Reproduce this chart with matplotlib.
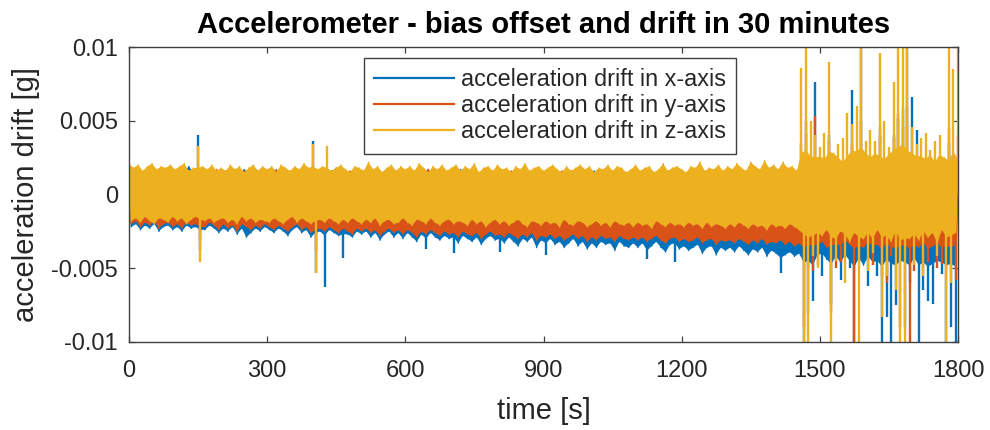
import numpy as np
import matplotlib
matplotlib.use("Agg")
import matplotlib.pyplot as plt

# ---------------- data (milli-g) ----------------
# Noise band of each series: local maxima at t = 0,10,...,1800 s and
# local minima at t = 5,15,...,1795 s (the signal alternates between them).
x_peaks = [
    1.7, 1.5, 1.8, 1.4, 1.6, 1.9, 1.5, 1.7, 1.6, 1.8,
    1.5, 1.8, 1.6, 1.9, 1.5, 1.7, 1.7, 1.5, 1.8, 1.6,
    1.7, 1.5, 1.8, 1.6, 1.4, 1.7, 1.5, 1.9, 1.6, 1.7,
    1.5, 1.8, 1.6, 1.4, 1.7, 1.5, 1.8, 1.6, 1.5, 1.7,
    1.6, 1.5, 1.7, 1.4, 1.6, 1.8, 1.5, 1.7, 1.4, 1.6,
    1.7, 1.5, 1.8, 1.4, 1.6, 1.5, 1.7, 1.4, 1.6, 1.8,
    1.5, 1.7, 1.4, 1.6, 1.5, 1.7, 1.3, 1.6, 1.5, 1.4,
    1.6, 1.4, 1.7, 1.5, 1.3, 1.6, 1.5, 1.4, 1.7, 1.5,
    1.4, 1.6, 1.3, 1.5, 1.6, 1.4, 1.5, 1.3, 1.6, 1.4,
    1.5, 1.3, 1.6, 1.4, 1.5, 1.3, 1.6, 1.4, 1.3, 1.5,
    1.4, 1.6, 1.3, 1.5, 1.4, 1.3, 1.5, 1.2, 1.4, 1.6,
    1.3, 1.5, 1.4, 1.2, 1.5, 1.3, 1.4, 1.6, 1.2, 1.4,
    1.5, 1.2, 1.4, 1.3, 1.5, 1.2, 1.4, 1.3, 1.5, 1.2,
    1.4, 1.3, 1.5, 1.2, 1.4, 1.3, 1.5, 1.2, 1.4, 1.3,
    1.5, 1.2, 1.4, 1.3, 1.5, 1.2, 1.9, 2.2, 2.0, 2.3,
    2.3, 1.9, 2.4, 2.1, 2.5, 1.8, 2.2, 2.0, 2.4, 2.6,
    2.5, 2.0, 2.2, 2.6, 1.9, 2.7, 2.3, 2.5, 2.8, 2.4,
    2.6, 2.2, 2.0, 1.8, 2.4, 1.7, 2.1, 1.9, 2.3, 2.2,
    2.0,
]
x_troughs = [
    -2.2, -2.0, -2.4, -2.1, -2.3, -2.0, -2.5, -2.2, -2.1, -2.4,
    -2.2, -2.5, -2.1, -2.3, -2.2, -2.4, -2.4, -2.1, -2.3, -2.6,
    -2.3, -2.5, -2.2, -2.7, -2.3, -2.9, -2.6, -2.3, -2.5, -2.2,
    -2.4, -2.6, -2.3, -2.5, -2.8, -2.4, -2.2, -2.6, -2.4, -2.9,
    -2.6, -2.5, -2.8, -2.4, -2.6, -2.8, -2.7, -2.7, -2.9, -2.5,
    -2.7, -2.5, -2.9, -2.6, -3.1, -2.7, -2.5, -2.9, -2.6, -3.0,
    -2.6, -2.9, -3.2, -2.7, -3.0, -2.6, -2.9, -3.1, -2.8, -3.0,
    -2.9, -3.3, -2.8, -3.0, -3.2, -2.9, -3.4, -3.0, -2.8, -3.1,
    -3.0, -3.3, -2.9, -3.2, -3.5, -3.0, -3.2, -2.9, -3.6, -3.1,
    -3.3, -3.0, -3.4, -3.2, -3.6, -3.3, -3.0, -3.5, -3.2, -3.7,
    -3.3, -3.6, -3.2, -3.4, -3.3, -3.8, -3.2, -3.5, -3.6, -3.3,
    -3.6, -3.3, -3.8, -3.5, -3.2, -3.6, -3.9, -3.4, -3.3, -3.7,
    -3.5, -3.8, -3.6, -3.4, -4.0, -3.6, -3.5, -4.1, -3.6, -3.8,
    -3.6, -3.9, -3.5, -3.8, -4.1, -3.7, -3.9, -3.6, -4.2, -3.8,
    -4.0, -4.3, -4.1, -3.9, -4.2, -4.0, -4.6, -4.5, -4.8, -4.1,
    -4.0, -4.4, -4.7, -4.2, -4.6, -4.1, -4.5, -4.9, -4.3, -4.8,
    -4.2, -4.6, -4.5, -4.9, -4.4, -4.7, -4.8, -4.5, -4.6, -4.8,
    -4.3, -4.8, -4.6, -4.9, -4.7, -4.5, -4.6, -4.8, -4.7, -4.9,
]
y_peaks = [
    1.6, 1.4, 1.7, 1.5, 1.8, 1.3, 1.6, 1.5, 1.7, 1.4,
    1.5, 1.7, 1.4, 1.6, 1.3, 1.8, 1.5, 1.6, 1.4, 1.7,
    1.4, 1.6, 1.5, 1.7, 1.3, 1.6, 1.4, 1.8, 1.5, 1.6,
    1.5, 1.3, 1.7, 1.4, 1.6, 1.5, 1.8, 1.4, 1.6, 1.3,
    1.7, 1.5, 1.4, 1.6, 1.5, 1.3, 1.7, 1.4, 1.6, 1.5,
    1.4, 1.6, 1.3, 1.7, 1.5, 1.4, 1.6, 1.5, 1.3, 1.6,
    1.5, 1.4, 1.6, 1.3, 1.5, 1.7, 1.4, 1.5, 1.3, 1.6,
    1.4, 1.5, 1.3, 1.6, 1.4, 1.5, 1.2, 1.6, 1.4, 1.3,
    1.5, 1.3, 1.4, 1.6, 1.2, 1.4, 1.5, 1.3, 1.6, 1.4,
    1.3, 1.5, 1.2, 1.4, 1.6, 1.3, 1.4, 1.2, 1.5, 1.3,
    1.4, 1.2, 1.5, 1.3, 1.4, 1.6, 1.2, 1.4, 1.3, 1.5,
    1.3, 1.4, 1.2, 1.5, 1.3, 1.4, 1.2, 1.5, 1.3, 1.2,
    1.4, 1.3, 1.5, 1.2, 1.4, 1.3, 1.1, 1.5, 1.3, 1.4,
    1.2, 1.4, 1.3, 1.5, 1.2, 1.3, 1.4, 1.2, 1.5, 1.3,
    1.4, 1.2, 1.5, 1.3, 1.4, 1.2, 1.8, 2.0, 1.8, 2.1,
    2.2, 1.8, 2.3, 2.0, 2.4, 1.6, 2.0, 2.1, 2.2, 2.3,
    2.4, 1.9, 2.1, 2.3, 1.8, 2.6, 2.2, 2.4, 2.5, 2.3,
    2.1, 2.6, 1.9, 1.7, 2.3, 1.6, 2.0, 1.8, 2.2, 2.2,
    2.0,
]
y_troughs = [
    -2.0, -1.8, -2.2, -1.9, -2.1, -1.8, -2.3, -2.0, -1.9, -2.2,
    -2.0, -2.3, -1.9, -2.1, -2.0, -2.2, -2.2, -1.9, -2.1, -2.4,
    -2.0, -2.3, -2.1, -2.5, -2.0, -2.2, -2.4, -2.1, -2.3, -2.0,
    -2.2, -2.4, -2.1, -2.3, -2.5, -2.2, -2.0, -2.4, -2.2, -2.6,
    -2.4, -2.3, -2.5, -2.2, -2.4, -2.6, -2.3, -2.5, -2.7, -2.3,
    -2.5, -2.3, -2.6, -2.4, -2.8, -2.5, -2.3, -2.6, -2.4, -2.7,
    -2.4, -2.6, -2.9, -2.5, -2.7, -2.4, -2.6, -2.8, -2.5, -2.7,
    -2.6, -2.9, -2.5, -2.7, -2.8, -2.6, -3.0, -2.7, -2.5, -2.8,
    -2.7, -2.9, -2.6, -2.8, -3.0, -2.7, -2.9, -2.6, -3.1, -2.8,
    -2.9, -2.7, -3.0, -2.8, -3.1, -2.9, -2.7, -3.0, -2.8, -3.2,
    -2.9, -3.1, -2.8, -3.0, -2.9, -3.2, -2.8, -3.0, -3.1, -2.9,
    -3.1, -2.9, -3.2, -3.0, -2.8, -3.1, -3.3, -3.0, -2.9, -3.2,
    -3.0, -3.2, -3.1, -2.9, -3.3, -3.1, -3.0, -3.4, -3.1, -3.2,
    -3.1, -3.3, -3.0, -3.2, -3.4, -3.1, -3.3, -3.0, -3.4, -3.2,
    -3.3, -3.1, -3.4, -3.2, -3.5, -3.3, -3.6, -3.4, -3.5, -3.4,
    -3.2, -3.6, -3.5, -3.3, -3.5, -3.1, -3.4, -3.7, -3.5, -3.6,
    -3.2, -3.5, -3.4, -3.7, -3.3, -3.6, -3.6, -3.5, -3.4, -3.7,
    -3.4, -3.6, -3.2, -3.7, -3.5, -3.3, -3.6, -3.5, -3.6, -3.4,
]
z_peaks = [
    2.1, 1.8, 2.0, 1.6, 1.9, 2.1, 1.7, 1.9, 1.8, 2.0,
    1.7, 1.9, 2.1, 1.6, 1.8, 1.8, 1.9, 1.7, 2.0, 1.6,
    1.8, 1.6, 2.0, 1.7, 1.9, 1.5, 1.8, 2.0, 1.6, 1.9,
    1.7, 1.9, 1.5, 2.0, 1.8, 1.6, 1.9, 1.7, 2.1, 1.8,
    1.9, 1.7, 1.9, 1.8, 1.6, 1.8, 2.0, 1.7, 1.5, 1.9,
    1.8, 1.6, 2.2, 1.7, 1.9, 1.5, 1.8, 2.0, 1.6, 1.9,
    1.7, 1.9, 1.6, 2.1, 1.8, 1.5, 1.9, 1.7, 2.0, 1.6,
    1.8, 2.0, 1.6, 1.9, 1.7, 2.1, 1.5, 1.8, 1.9, 1.6,
    2.0, 1.7, 1.8, 1.5, 1.9, 1.7, 2.1, 1.6, 1.8, 1.9,
    1.6, 1.8, 2.0, 1.7, 1.5, 1.9, 1.6, 1.8, 2.0, 1.7,
    1.9, 1.5, 1.8, 1.7, 2.0, 1.6, 1.9, 1.8, 1.5, 1.7,
    2.0, 1.6, 1.8, 1.9, 1.5, 1.7, 2.1, 1.6, 1.8, 1.9,
    1.7, 1.5, 1.9, 1.8, 2.2, 1.6, 1.8, 1.7, 2.0, 1.6,
    1.9, 1.7, 2.1, 1.8, 1.6, 2.2, 1.9, 1.7, 2.3, 1.8,
    2.0, 1.7, 2.2, 1.8, 1.9, 1.6, 2.8, 3.0, 2.6, 2.5,
    2.6, 2.4, 2.9, 2.8, 2.5, 2.2, 2.6, 3.0, 2.9, 3.2,
    2.8, 2.5, 2.8, 2.6, 2.4, 2.7, 3.0, 3.2, 3.4, 3.0,
    2.8, 2.6, 2.6, 2.4, 2.7, 2.2, 2.7, 2.5, 2.3, 2.9,
    2.4,
]
z_troughs = [
    -1.8, -1.6, -1.9, -1.5, -1.8, -2.0, -1.6, -1.7, -1.9, -1.5,
    -1.8, -1.6, -2.0, -1.7, -1.5, -1.7, -1.8, -1.6, -1.9, -1.7,
    -1.6, -1.9, -1.7, -2.0, -1.5, -1.8, -1.6, -1.9, -1.7, -1.8,
    -1.9, -1.6, -1.8, -2.0, -1.7, -1.5, -1.9, -1.6, -1.8, -2.0,
    -1.8, -1.7, -1.9, -1.6, -1.8, -2.0, -1.7, -1.9, -1.6, -1.8,
    -2.0, -1.7, -1.9, -1.6, -2.1, -1.8, -1.7, -2.0, -1.9, -1.6,
    -1.9, -2.1, -1.7, -1.8, -2.0, -1.6, -1.9, -2.1, -1.8, -1.7,
    -2.0, -1.8, -1.9, -2.1, -1.7, -2.0, -1.8, -2.2, -1.9, -1.7,
    -2.0, -1.8, -2.1, -1.9, -1.7, -2.0, -2.2, -1.8, -1.9, -2.1,
    -1.8, -2.0, -1.9, -2.2, -1.7, -2.0, -2.1, -1.8, -1.9, -2.2,
    -2.0, -1.8, -2.1, -1.9, -2.2, -1.8, -2.0, -2.1, -1.9, -2.2,
    -1.9, -2.1, -2.0, -2.3, -1.8, -2.0, -2.2, -1.9, -2.1, -2.0,
    -2.2, -1.9, -2.1, -2.0, -2.3, -1.9, -2.2, -2.0, -2.1, -2.3,
    -2.0, -2.2, -1.9, -2.1, -2.3, -2.0, -2.2, -2.1, -2.4, -2.0,
    -2.2, -2.1, -2.3, -2.0, -2.2, -2.4, -2.7, -2.9, -2.8, -2.6,
    -2.8, -2.4, -2.9, -3.0, -2.5, -2.7, -3.2, -2.6, -2.9, -3.0,
    -2.6, -3.0, -2.4, -2.9, -2.8, -3.2, -2.5, -3.1, -3.0, -3.0,
    -2.7, -3.1, -2.5, -2.9, -2.6, -3.3, -2.4, -2.9, -2.8, -2.6,
]

# Isolated spikes (time s, extreme value mg); values beyond +-10 run off the axes
x_spike_t = [150, 155, 400, 405, 425, 465, 645, 705, 805, 905, 1125, 1185, 1415,
             1465, 1470, 1475, 1485, 1490, 1505, 1520, 1525, 1545, 1565, 1570, 1575,
             1590, 1605, 1625, 1630, 1635, 1645, 1655, 1660, 1665, 1670, 1680,
             1685, 1690, 1695, 1700, 1710, 1715, 1725, 1735, 1745, 1765, 1775,
             1780, 1785, 1795]
x_spike_v = [4.0, -3.8, 3.6, -5.3, -6.3, -4.3, -3.7, -4.0, -3.9, -4.1, -4.4, -4.6, -5.3,
             -12, 5.0, -8.0, -7.2, 7.6, -5.5, 4.0, -7.4, -5.8, -5.0, 7.1, -10.5,
             12, -6.2, -5.5, 4.6, -12, -8.3, -12, 4.0, -7.5, 5.2, 5.8,
             -9.0, 12, -6.0, 6.6, 4.4, -12, -6.5, -7.2, -7.4, -5.4, -12,
             3.5, -9.0, -12]
y_spike_t = [155, 405, 1460, 1465, 1470, 1475, 1485, 1490, 1495, 1520, 1525, 1535,
             1545, 1570, 1575, 1585, 1590, 1615, 1630, 1635, 1645, 1655, 1660,
             1670, 1675, 1680, 1685, 1690, 1695, 1705, 1725, 1735, 1755, 1765,
             1775, 1780, 1795, 1800]
y_spike_v = [-3.0, -3.8, 3.5, -9.0, 4.2, -5.0, -5.2, 5.3, -4.8, 3.6, -8.0, -5.0,
             -4.6, 3.4, -12, -4.5, 5.0, -4.8, 4.0, -5.5, -6.0, -4.2, 3.8,
             5.5, -9.0, 4.6, -4.0, 6.0, -12, -5.2, -4.9, -4.6, -5.0, -4.7,
             -4.4, 4.5, -5.8, 4.0]
z_spike_t = [150, 155, 400, 405, 430, 1460, 1465, 1470, 1475, 1480, 1485, 1490,
             1495, 1500, 1510, 1520, 1525, 1535, 1540, 1550, 1555, 1560, 1570,
             1580, 1585, 1590, 1600, 1605, 1610, 1615, 1620, 1630, 1635, 1640,
             1645, 1650, 1660, 1665, 1670, 1675, 1680, 1685, 1690, 1700, 1705,
             1710, 1720, 1725, 1730, 1740, 1750, 1755, 1760, 1775, 1780, 1785,
             1790, 1800]
z_spike_v = [3.3, -4.6, 3.4, -5.3, 3.3, 8.6, -12, 12, -12, 5.0, -4.2, 4.0,
             -5.0, 3.2, 4.2, 9.0, -12, -4.5, 3.4, 3.8, -6.0, 5.5, 4.8,
             6.0, -12, 12, 3.6, -5.2, 4.4, -4.0, 3.6, 9.6, -8.3, 5.0,
             -5.5, 3.2, 7.6, -6.5, 12, -12, 12, -12, 12, 4.6, -4.8,
             3.4, 3.8, -5.5, 4.2, 3.0, 3.6, -4.2, 4.0, -12, 12, -6.0,
             8.5, 12]

series_labels = ["acceleration drift in x-axis",
                 "acceleration drift in y-axis",
                 "acceleration drift in z-axis"]
series_colors = ["#0072BD", "#D95319", "#EDB120"]

x_ticks = [0, 300, 600, 900, 1200, 1500, 1800]
y_ticks = [-0.01, -0.005, 0, 0.005, 0.01]
y_tick_labels = ["-0.01", "-0.005", "0", "0.005", "0.01"]

SAMPLE_STEP = 5.0  # seconds between successive extrema


def build(peaks, troughs):
    peaks = np.asarray(peaks, float) * 1e-3
    troughs = np.asarray(troughs, float) * 1e-3
    n = len(peaks) + len(troughs)
    v = np.empty(n)
    v[0::2] = peaks
    v[1::2] = troughs
    t = np.arange(n) * SAMPLE_STEP
    return t, v, t[0::2], peaks, t[1::2], troughs


plt.rcParams["font.family"] = ["Liberation Sans", "DejaVu Sans"]
txt = "#262626"

fig = plt.figure(figsize=(9.9, 4.3), dpi=100)
ax = fig.add_axes([129/990, 1 - 342/430, (958-129)/990, (342-47)/430])

all_series = [(x_peaks, x_troughs, x_spike_t, x_spike_v),
              (y_peaks, y_troughs, y_spike_t, y_spike_v),
              (z_peaks, z_troughs, z_spike_t, z_spike_v)]
for i, ((pk, tr, st, sv), lab, col) in enumerate(zip(all_series, series_labels, series_colors)):
    t, v, tp, vp, tt, vt = build(pk, tr)
    z0 = 2 + 3 * i
    ax.fill(np.concatenate([tp, tt[::-1]]), np.concatenate([vp, vt[::-1]]),
            color=col, lw=0, zorder=z0)
    ax.plot(t, v, color=col, lw=1.0, label=lab, zorder=z0 + 1)
    ax.vlines(st, 0, np.asarray(sv, float) * 1e-3, color=col, lw=1.7, zorder=z0 + 2)

ax.set_xlim(0, 1800)
ax.set_ylim(-0.01, 0.01)
ax.set_xticks(x_ticks)
ax.set_xticklabels([str(v) for v in x_ticks])
ax.set_yticks(y_ticks)
ax.set_yticklabels(y_tick_labels)
ax.tick_params(direction="in", length=4.5, width=0.9, colors="#404040",
               labelsize=17, labelcolor=txt, pad=8, top=True, right=True)
ax.tick_params(axis="x", pad=13)
for s in ax.spines.values():
    s.set_color("#404040")
    s.set_linewidth(1.0)
    s.set_zorder(20)

ax.set_xlabel("time [s]", fontsize=21, color=txt, labelpad=11)
ax.set_ylabel("acceleration drift [g]", fontsize=21, color=txt, labelpad=8)
ax.set_title("Accelerometer - bias offset and drift in 30 minutes",
             fontsize=21, fontweight="bold", color="black", pad=10)

leg = ax.legend(loc="upper center", bbox_to_anchor=(0.508, 0.963),
                fontsize=16.8, frameon=True, fancybox=False, framealpha=1,
                edgecolor="#404040", handlelength=3.4, handletextpad=0.3,
                borderpad=0.45, labelspacing=0.12, borderaxespad=0)
leg.get_frame().set_linewidth(1.0)
leg.set_zorder(30)
for tx in leg.get_texts():
    tx.set_color(txt)
for ln in leg.get_lines():
    ln.set_linewidth(1.6)

fig.savefig("out.png", dpi=100)
